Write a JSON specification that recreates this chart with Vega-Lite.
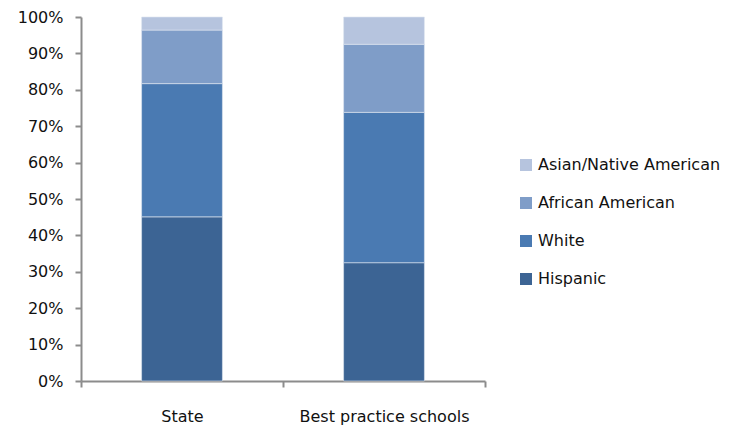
{
  "$schema": "https://vega.github.io/schema/vega-lite/v6.json",
  "width": 404,
  "height": 364,
  "autosize": "none",
  "padding": {"left": 81, "top": 17, "right": 264, "bottom": 47},
  "background": "white",
  "config": {
    "view": {"stroke": null},
    "font": "DejaVu Sans",
    "axis": {"labelFont": "DejaVu Sans", "labelColor": "#111111", "labelFontSize": 16, "grid": false}
  },
  "data": {
    "values": [
      {"group": "State", "ethnicity": "Hispanic", "share": 0.451, "rank": 1},
      {"group": "State", "ethnicity": "White", "share": 0.366, "rank": 2},
      {"group": "State", "ethnicity": "African American", "share": 0.147, "rank": 3},
      {"group": "State", "ethnicity": "Asian/Native  American", "share": 0.036, "rank": 4},
      {"group": "Best practice schools", "ethnicity": "Hispanic", "share": 0.325, "rank": 1},
      {"group": "Best practice schools", "ethnicity": "White", "share": 0.413, "rank": 2},
      {"group": "Best practice schools", "ethnicity": "African American", "share": 0.187, "rank": 3},
      {"group": "Best practice schools", "ethnicity": "Asian/Native  American", "share": 0.075, "rank": 4}
    ]
  },
  "mark": {"type": "bar", "width": {"band": 0.4}, "stroke": "#dfe6f0", "strokeWidth": 0.6},
  "encoding": {
    "x": {
      "field": "group",
      "type": "nominal",
      "sort": ["State", "Best practice schools"],
      "scale": {"paddingInner": 0, "paddingOuter": 0},
      "axis": {
        "title": null,
        "labelAngle": 0,
        "tickBand": "extent",
        "domainColor": "#8c8c8c",
        "domainWidth": 2,
        "tickColor": "#8c8c8c",
        "tickWidth": 2,
        "tickSize": 6,
        "labelPadding": 21
      }
    },
    "y": {
      "field": "share",
      "type": "quantitative",
      "stack": "zero",
      "scale": {"domain": [0, 1]},
      "axis": {
        "title": null,
        "format": ".0%",
        "values": [0, 0.1, 0.2, 0.3, 0.4, 0.5, 0.6, 0.7, 0.8, 0.9, 1],
        "domainColor": "#8c8c8c",
        "domainWidth": 2,
        "tickColor": "#8c8c8c",
        "tickWidth": 2,
        "tickSize": 6,
        "labelPadding": 12
      }
    },
    "order": {"field": "rank", "sort": "ascending"},
    "color": {
      "field": "ethnicity",
      "type": "nominal",
      "scale": {
        "domain": ["Asian/Native  American", "African American", "White", "Hispanic"],
        "range": ["#b6c4de", "#7f9dc8", "#4a7ab2", "#3c6494"]
      },
      "legend": {
        "title": null,
        "orient": "none",
        "legendX": 437,
        "legendY": 140,
        "symbolType": "square",
        "symbolSize": 144,
        "symbolStrokeWidth": 0,
        "labelFontSize": 16,
        "labelFont": "DejaVu Sans",
        "labelColor": "#111111",
        "labelOffset": 4,
        "labelLimit": 320,
        "rowPadding": 22
      }
    }
  }
}
